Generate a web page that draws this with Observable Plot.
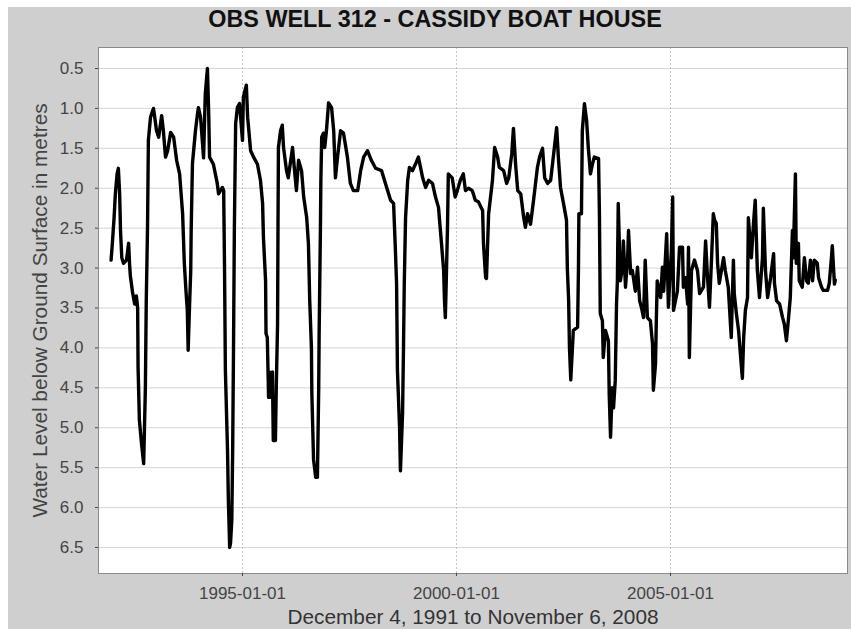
<!DOCTYPE html>
<html><head><meta charset="utf-8">
<script src="https://cdn.jsdelivr.net/npm/d3@7"></script>
<script src="https://cdn.jsdelivr.net/npm/@observablehq/plot@0.6"></script>
<style>
html,body{margin:0;padding:0;background:#fff;}
#page{position:relative;width:851px;height:629px;overflow:hidden;font-family:"Liberation Sans",Arial,sans-serif;}
#bg{position:absolute;left:8px;top:7px;width:843px;height:622px;background:#cfcfcf;}
#title{position:absolute;left:8px;top:8px;width:854px;text-align:center;font-weight:bold;font-size:23.4px;line-height:23px;color:#111;white-space:nowrap;}
#chart{position:absolute;left:0;top:36px;}
</style></head>
<body><div id="page"><div id="bg"></div><div id="title">OBS WELL 312 - CASSIDY BOAT HOUSE</div><div id="chart"></div></div>
<script>
// decimal-year dates of the readings
const years = [
1991.93,1991.96,1992.00,1992.03,1992.07,1992.10,1992.13,1992.15,1992.18,1992.22,
1992.29,1992.34,1992.36,1992.38,1992.43,1992.48,1992.52,1992.55,1992.56,1992.59,
1992.64,1992.69,1992.73,1992.75,1992.78,1992.80,1992.85,1992.90,1992.92,1992.99,
1993.04,1993.11,1993.15,1993.20,1993.25,1993.32,1993.39,1993.46,1993.53,1993.60,
1993.64,1993.68,1993.71,1993.73,1993.76,1993.79,1993.80,1993.83,1993.90,1993.95,
1993.97,1994.02,1994.09,1994.13,1994.18,1994.21,1994.23,1994.32,1994.41,1994.44,
1994.53,1994.56,1994.58,1994.60,1994.65,1994.67,1994.70,1994.72,1994.75,1994.77,
1994.79,1994.81,1994.84,1994.88,1994.93,1995.00,1995.02,1995.09,1995.12,1995.19,
1995.26,1995.35,1995.42,1995.47,1995.49,1995.54,1995.55,1995.58,1995.61,1995.63,
1995.65,1995.70,1995.72,1995.77,1995.79,1995.82,1995.83,1995.84,1995.89,1995.93,
1995.96,1996.03,1996.07,1996.17,1996.21,1996.26,1996.31,1996.38,1996.43,1996.50,
1996.54,1996.57,1996.61,1996.62,1996.66,1996.71,1996.75,1996.78,1996.79,1996.82,
1996.83,1996.85,1996.89,1996.92,1996.96,1997.01,1997.08,1997.13,1997.17,1997.22,
1997.29,1997.36,1997.45,1997.52,1997.59,1997.69,1997.76,1997.83,1997.92,1998.01,
1998.11,1998.25,1998.34,1998.46,1998.53,1998.57,1998.60,1998.62,1998.67,1998.69,
1998.74,1998.76,1998.78,1998.81,1998.86,1998.90,1998.97,1999.04,1999.11,1999.21,
1999.28,1999.35,1999.44,1999.51,1999.58,1999.65,1999.70,1999.72,1999.74,1999.76,
1999.79,1999.81,1999.90,1999.97,2000.02,2000.09,2000.16,2000.21,2000.28,2000.37,
2000.44,2000.51,2000.61,2000.63,2000.68,2000.70,2000.75,2000.84,2000.89,2000.96,
2001.00,2001.10,2001.17,2001.22,2001.29,2001.33,2001.38,2001.43,2001.50,2001.57,
2001.61,2001.66,2001.73,2001.80,2001.89,2001.94,2002.01,2002.06,2002.13,2002.20,
2002.27,2002.34,2002.38,2002.43,2002.50,2002.57,2002.59,2002.62,2002.64,2002.67,
2002.73,2002.83,2002.85,2002.86,2002.92,2002.94,2002.99,2003.04,2003.08,2003.13,
2003.18,2003.22,2003.32,2003.34,2003.36,2003.41,2003.43,2003.48,2003.55,2003.57,
2003.60,2003.64,2003.67,2003.71,2003.74,2003.76,2003.78,2003.83,2003.88,2003.90,
2003.95,2004.00,2004.02,2004.07,2004.11,2004.18,2004.23,2004.28,2004.32,2004.37,
2004.41,2004.46,2004.53,2004.58,2004.60,2004.65,2004.67,2004.69,2004.77,2004.81,
2004.84,2004.91,2004.95,2005.02,2005.05,2005.07,2005.16,2005.21,2005.28,2005.30,
2005.35,2005.40,2005.42,2005.44,2005.49,2005.56,2005.63,2005.68,2005.77,2005.82,
2005.86,2005.91,2005.96,2006.00,2006.03,2006.07,2006.10,2006.14,2006.24,2006.28,
2006.35,2006.42,2006.47,2006.49,2006.54,2006.59,2006.64,2006.68,2006.71,2006.75,
2006.80,2006.82,2006.89,2006.94,2006.98,2007.03,2007.08,2007.15,2007.17,2007.22,
2007.27,2007.34,2007.41,2007.43,2007.48,2007.55,2007.62,2007.66,2007.71,2007.76,
2007.80,2007.85,2007.87,2007.92,2007.94,2007.99,2008.01,2008.08,2008.13,2008.18,
2008.22,2008.27,2008.32,2008.36,2008.43,2008.46,2008.53,2008.57,2008.67,2008.71,
2008.76,2008.78,2008.83,2008.85
];
// water level below ground surface (m)
const levels = [
2.90,2.69,2.37,2.07,1.82,1.75,2.07,2.53,2.87,2.94,
2.90,2.69,2.94,3.10,3.30,3.45,3.35,3.50,4.25,4.90,
5.20,5.45,4.50,3.44,2.49,1.40,1.11,1.03,1.00,1.28,
1.36,1.09,1.28,1.61,1.53,1.30,1.36,1.65,1.82,2.32,
2.94,3.30,3.53,4.03,3.50,3.03,2.53,1.69,1.28,1.06,
0.99,1.11,1.62,0.82,0.50,1.06,1.61,1.70,1.94,2.07,
1.99,2.03,3.00,4.28,5.28,5.91,6.50,6.45,6.16,5.30,
4.00,2.50,1.19,0.99,0.94,1.40,0.86,0.71,1.11,1.53,
1.61,1.70,1.90,2.19,2.62,3.16,3.82,3.87,4.62,4.30,
4.62,4.30,5.16,5.16,4.50,3.70,2.50,1.49,1.28,1.21,
1.49,1.78,1.87,1.49,1.74,2.03,1.65,1.78,2.11,2.37,
2.69,3.40,4.00,4.57,5.40,5.62,5.62,4.50,3.82,2.50,
1.90,1.36,1.31,1.49,1.28,0.93,0.99,1.28,1.87,1.61,
1.28,1.31,1.61,1.94,2.03,2.03,1.78,1.61,1.53,1.65,
1.75,1.78,1.94,2.15,2.19,2.74,3.19,4.28,5.00,5.54,
4.82,4.07,3.19,2.37,1.90,1.74,1.78,1.70,1.61,1.87,
1.99,1.90,1.94,2.11,2.24,2.69,3.03,3.40,3.62,3.20,
2.50,1.82,1.87,2.11,2.03,1.90,1.82,2.03,2.00,2.03,
2.15,2.17,2.28,2.69,3.12,3.13,2.32,1.90,1.49,1.61,
1.74,1.78,1.94,1.87,1.57,1.25,1.70,2.03,2.07,2.37,
2.49,2.32,2.45,2.15,1.74,1.61,1.50,1.87,1.94,1.90,
1.57,1.24,1.61,1.99,2.19,2.40,3.00,3.40,4.00,4.40,
3.78,3.74,3.00,2.32,2.32,1.28,0.94,1.15,1.49,1.82,
1.69,1.61,1.63,2.32,3.57,3.66,4.12,3.78,3.91,4.60,
5.12,4.50,4.75,4.41,3.45,3.16,2.19,3.16,2.99,2.66,
3.24,2.87,2.53,3.07,3.03,3.29,2.99,3.41,3.49,3.62,
2.90,3.62,3.66,3.95,4.53,4.20,3.62,3.16,3.37,2.99,
3.29,2.57,3.49,2.78,2.11,3.53,3.29,2.74,2.74,3.24,
3.12,3.45,2.74,4.12,3.03,2.90,3.03,3.32,3.24,2.66,
3.07,3.49,2.87,2.32,2.40,2.44,2.94,3.19,2.87,3.03,
3.24,3.87,2.90,3.32,3.57,3.78,4.12,4.38,3.87,3.53,
3.37,2.37,2.87,2.44,2.15,3.03,3.37,2.87,2.25,3.03,
3.37,3.12,2.82,3.19,3.41,3.45,3.62,3.70,3.91,3.62,
3.37,2.53,2.87,1.82,2.94,2.69,3.16,3.24,2.87,3.16,
3.19,2.90,3.16,2.90,2.94,3.12,3.24,3.28,3.28,3.19,
2.87,2.72,3.20,3.15
];
const yTicks = [0.5, 1.0, 1.5, 2.0, 2.5, 3.0, 3.5, 4.0, 4.5, 5.0, 5.5, 6.0, 6.5];
const xTickLabels = ["1995-01-01", "2000-01-01", "2005-01-01"];
const xLabel = "December 4, 1991 to November 6, 2008";
const yLabel = "Water Level below Ground Surface in metres";

function toDate(y) {
  const yr = Math.floor(y);
  const a = Date.UTC(yr, 0, 1), b = Date.UTC(yr + 1, 0, 1);
  return new Date(a + (y - yr) * (b - a));
}
const n = Math.min(years.length, levels.length);
const data = d3.range(n).map(i => ({date: toDate(years[i]), level: levels[i]}));
const xTicks = xTickLabels.map(s => new Date(s + "T00:00:00Z"));
const font = '"Liberation Sans", Arial, sans-serif';

const chart = Plot.plot({
  width: 851,
  height: 593,
  marginLeft: 98,
  marginRight: 4,
  marginTop: 11,
  marginBottom: 56,
  style: {background: "transparent", fontFamily: font, overflow: "visible"},
  x: {type: "utc", domain: [toDate(1991.636), toDate(2009.135)]},
  y: {domain: [6.826, 0.237]},
  marks: [
    Plot.frame({fill: "white", stroke: null}),
    Plot.gridY(yTicks, {stroke: "#d6d6d6", strokeOpacity: 1}),
    Plot.gridX(xTicks, {stroke: "#c4c4c4", strokeOpacity: 1, strokeDasharray: "2,2"}),
    Plot.line(data, {x: "date", y: "level", stroke: "#000", strokeWidth: 3.4, strokeLinejoin: "round"}),
    Plot.frame({stroke: "#8a8a8a"}),
    Plot.axisY(yTicks, {anchor: "left", tickSize: 3, tickPadding: 12, fontSize: 17, tickFormat: d3.format(".1f"), label: null, color: "#444"}),
    Plot.axisX(xTicks, {anchor: "bottom", tickSize: 3, tickPadding: 10, fontSize: 17, tickFormat: d3.utcFormat("%Y-%m-%d"), label: null, color: "#444"}),
    Plot.text([xLabel], {text: d => d, frameAnchor: "bottom", dy: 44, lineAnchor: "middle", textAnchor: "middle", fontSize: 20.8, fill: "#333"}),
    Plot.text([yLabel], {text: d => d, frameAnchor: "left", dx: -58, rotate: -90, lineAnchor: "middle", textAnchor: "middle", fontSize: 20.8, fill: "#444"})
  ]
});
document.getElementById("chart").appendChild(chart);
</script>
</body></html>
